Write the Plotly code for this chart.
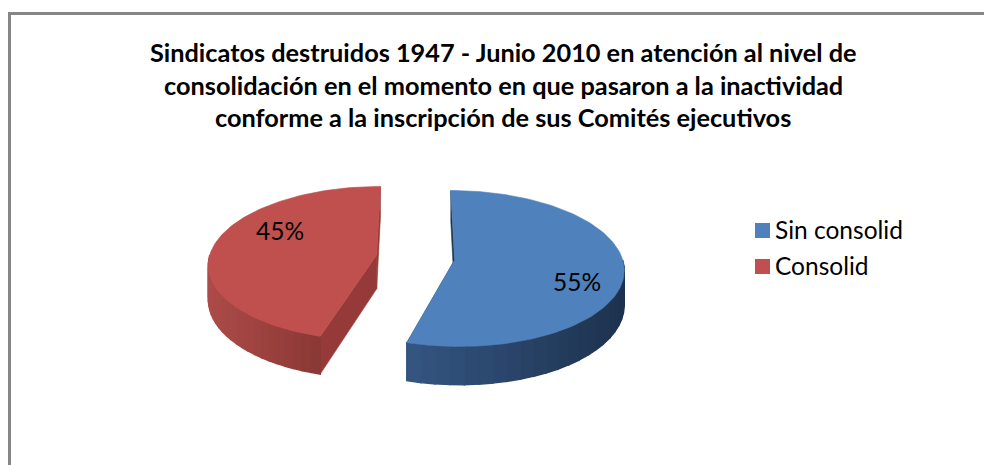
import math
import plotly.graph_objects as go

categories = ["Sin consolid", "Consolid"]
shares = [54.5, 45.5]
label_values = [55, 45]
title_lines = [
    "Sindicatos destruidos 1947 - Junio 2010 en atención al nivel de",
    "consolidación en el momento en que pasaron a la inactividad",
    "conforme a la inscripción de sus Comités ejecutivos",
]

FONT = "Lato"
TOP = ["#4F81BD", "#C0504D"]
WALL_FROM = [(52, 86, 130), (172, 75, 72)]
WALL_TO = [(29, 50, 78), (138, 56, 53)]
INNER = ["#1F3552", "#953A38"]
CX, CY, RX, RY, PERSP, EXPLODE, DEPTH = 415.5, 257.5, 167.5, 76.5, 0.108, 0.235, 34


def project(a_deg, radius, ex, ez, drop=0.0):
    a = math.radians(a_deg)
    x = radius * math.sin(a) + ex
    z = radius * math.cos(a) + ez
    s = 1 + PERSP * z
    return CX + RX * x / s, CY - RY * z / s + drop / s


def poly(points, color, name=None, width=0.6):
    return go.Scatter(
        x=[p[0] for p in points] + [points[0][0]],
        y=[p[1] for p in points] + [points[0][1]],
        mode="lines", fill="toself", fillcolor=color,
        line=dict(color=color, width=width),
        hoverinfo="skip", showlegend=False, name=name,
    )


fig = go.Figure()
total = sum(shares)
spans = []
start = 0.0
for v in shares:
    end = start + 360 * v / total
    spans.append((start, end))
    start = end

tops = []
for i, (a0, a1) in enumerate(spans):
    mid = math.radians((a0 + a1) / 2)
    ex, ez = EXPLODE * math.sin(mid), EXPLODE * math.cos(mid)
    # radial walls
    for a in (a0, a1):
        fig.add_trace(poly([
            project(a, 0, ex, ez), project(a, 1, ex, ez),
            project(a, 1, ex, ez, DEPTH), project(a, 0, ex, ez, DEPTH),
        ], INNER[i]))
    # curved outer wall, only the part that faces the viewer
    lo, hi = max(a0, 90), min(a1, 270)
    steps = 24
    for k in range(steps):
        b0 = lo + (hi - lo) * k / steps
        b1 = lo + (hi - lo) * (k + 1) / steps
        # colour runs left to right on screen
        xm = project((b0 + b1) / 2, 1, ex, ez)[0]
        xa, xb = sorted((project(lo, 1, ex, ez)[0], project(hi, 1, ex, ez)[0]))
        t = (xm - xa) / (xb - xa)
        c = tuple(round(f + (g - f) * t) for f, g in zip(WALL_FROM[i], WALL_TO[i]))
        color = "rgb(%d,%d,%d)" % c
        fig.add_trace(poly([
            project(b0, 1, ex, ez), project(b1, 1, ex, ez),
            project(b1, 1, ex, ez, DEPTH), project(b0, 1, ex, ez, DEPTH),
        ], color, width=1.4))
    # top face
    pts = [project(a0 + (a1 - a0) * k / 120, 1, ex, ez) for k in range(121)]
    tops.append(poly([project(a0, 0, ex, ez)] + pts, TOP[i], categories[i]))
for t in tops:
    fig.add_trace(t)

# legend keys and labels
fig.add_trace(go.Scatter(
    x=[762.5, 762.5], y=[230.5, 266.5], mode="markers",
    marker=dict(symbol="square", size=15, color=TOP),
    hoverinfo="skip", showlegend=False,
))
fig.add_trace(go.Scatter(
    x=[775, 775], y=[233, 269], mode="text",
    text=categories, textposition="middle right",
    textfont=dict(family=FONT, size=24.5, color="#000000"),
    hoverinfo="skip", showlegend=False,
))
# percentage labels
fig.add_trace(go.Scatter(
    x=[577, 280], y=[285, 234], mode="text",
    text=["%d%%" % v for v in label_values],
    textposition="middle center",
    textfont=dict(family=FONT, size=24.5, color="#000000"),
    hoverinfo="skip", showlegend=False,
))

for line, yy in zip(title_lines, (51.5, 84.5, 116.5)):
    fig.add_annotation(x=503, y=yy, xref="x", yref="y", text="<b>%s</b>" % line,
                       showarrow=False, xanchor="center", yanchor="middle",
                       font=dict(family=FONT, size=25.3, color="#000000"))

fig.update_layout(
    width=984, height=465, margin=dict(l=0, r=0, t=0, b=0),
    paper_bgcolor="#FFFFFF", plot_bgcolor="#FFFFFF", showlegend=False,
    xaxis=dict(range=[0, 984], visible=False, fixedrange=True),
    yaxis=dict(range=[465, 0], visible=False, fixedrange=True),
    shapes=[dict(type="rect", xref="x", yref="y", x0=9.5, y0=13.5, x1=1100, y1=600,
                 line=dict(color="#868686", width=3), fillcolor="rgba(0,0,0,0)", layer="below")],
)
fig.write_html("out.html", config={"displayModeBar": False},
               post_script="document.body.style.margin='0';")
